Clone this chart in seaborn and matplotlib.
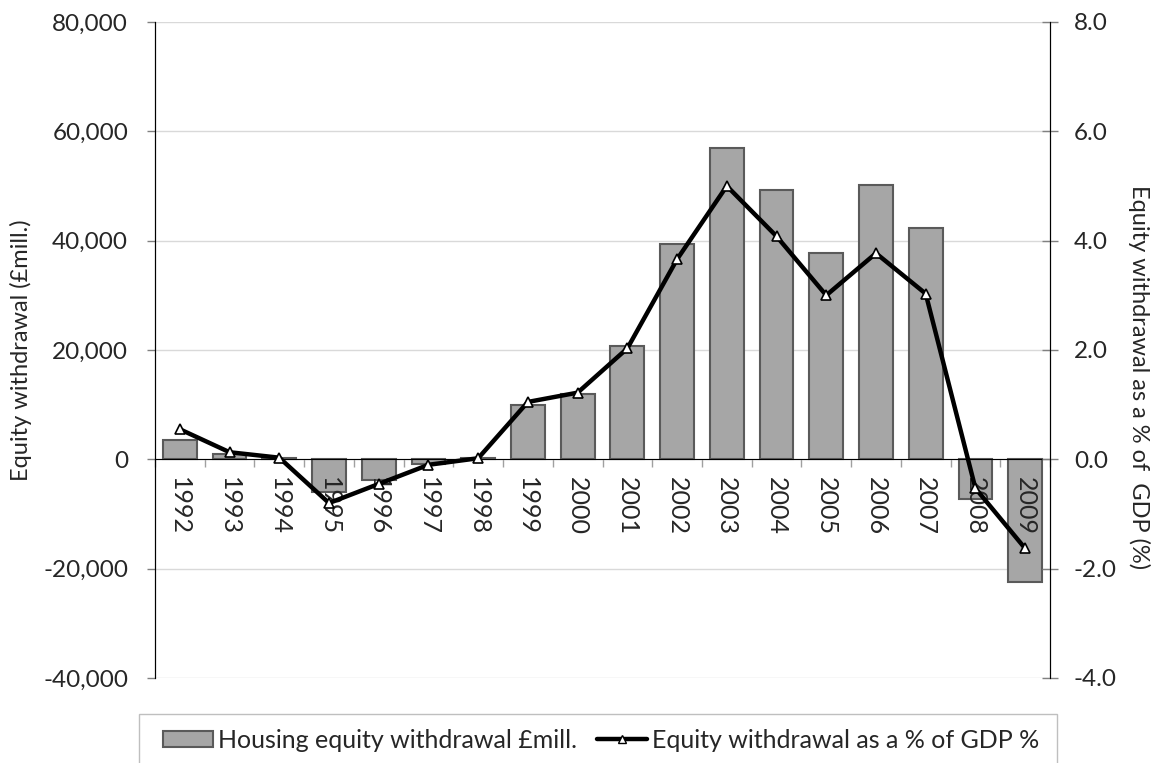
import numpy as np
import pandas as pd
import matplotlib
matplotlib.use("Agg")
import matplotlib.pyplot as plt
import seaborn as sns
from matplotlib.patches import Patch, Rectangle
from matplotlib.lines import Line2D
from matplotlib.ticker import FuncFormatter

# data
years = [str(y) for y in range(1992, 2010)]
hew_mill = [3500, 900, 300, -5900, -3700, -900, 300, 9900, 12000, 20700,
            39300, 57000, 49200, 37800, 50100, 42400, -7300, -22500]
hew_pct_gdp = [0.55, 0.13, 0.03, -0.80, -0.45, -0.10, 0.02, 1.05, 1.22, 2.03,
               3.66, 5.00, 4.08, 3.00, 3.77, 3.03, -0.53, -1.63]

df = pd.DataFrame({"year": years, "hew": hew_mill, "pct": hew_pct_gdp})
df["pos"] = np.arange(len(df))

BAR = "#A6A6A6"
BAR_EDGE = "#5A5A5A"
TICK = "#808080"

sns.set_style("white")
plt.rcParams["font.family"] = ["Lato", "DejaVu Sans"]

W, H = 1158, 763
fig = plt.figure(figsize=(W / 100, H / 100), dpi=100)
ax = fig.add_axes([155 / W, 1 - 678 / H, 895 / W, 656 / H])

sns.barplot(data=df, x="year", y="hew", ax=ax, color=BAR,
            edgecolor=BAR_EDGE, linewidth=1.5, width=0.68, saturation=1)

ax.set_ylim(-40000, 80000)
ax.set_yticks(np.arange(-40000, 80001, 20000))
ax.yaxis.set_major_formatter(FuncFormatter(lambda v, p: f"{v:,.0f}"))
ax.yaxis.grid(True, color="#D9D9D9", linewidth=1)
ax.set_axisbelow(True)
ax.set_xlim(-0.5, len(df) - 0.5)

# x axis sits on the zero line, ticks between categories
ax.spines["bottom"].set_position(("data", 0))
ax.spines["bottom"].set_color("black")
ax.spines["top"].set_visible(False)
ax.spines["left"].set_color("black")
ax.spines["right"].set_color("black")
ax.set_xticks(np.arange(-0.5, len(df), 1.0))
ax.set_xticklabels([])
ax.tick_params(axis="x", bottom=True, length=5.5, color="#A0A0A0", width=1)
ax.tick_params(axis="y", left=True, length=5.8, color=TICK, width=1,
               labelsize=17.5, pad=13.5)
ax.set_xlabel("")
ax.set_ylabel("")

for i, yr in enumerate(years):
    ax.annotate(yr, xy=(i, 0), xytext=(0, -13), textcoords="offset points",
                rotation=270, ha="center", va="top", fontsize=18)

ax2 = ax.twinx()
sns.lineplot(data=df, x="pos", y="pct", ax=ax2, color="black", linewidth=3.2,
             marker="^", markersize=7, markerfacecolor="white",
             markeredgecolor="black", markeredgewidth=1.2)
ax2.set_ylim(-4, 8)
ax2.set_yticks(np.arange(-4, 8.01, 2))
ax2.yaxis.set_major_formatter(FuncFormatter(lambda v, p: f"{v:.1f}"))
ax2.tick_params(axis="y", right=True, direction="inout", length=11.5,
                color=TICK, width=1, labelsize=17.5, pad=11.5)
ax2.set_ylabel("")
ax2.set_xlabel("")
ax2.spines["top"].set_visible(False)
ax2.spines["bottom"].set_visible(False)
ax2.spines["right"].set_color("black")
ax2.spines["left"].set_color("black")
ax2.set_xlim(-0.5, len(df) - 0.5)

fig.text(21 / W, 1 - 350 / H, "Equity withdrawal (£mill.)", rotation=90,
         ha="center", va="center", fontsize=17)
fig.text(1139 / W, 1 - 377 / H, "Equity withdrawal as a % of  GDP (%)",
         rotation=270, ha="center", va="center", fontsize=17)

# legend box (runs off the bottom edge like the reference)
fig.patches.append(Rectangle((139 / W, -0.02), (1057 - 139) / W, 0.02 + 49 / H,
                             transform=fig.transFigure, facecolor="none",
                             edgecolor="#BFBFBF", linewidth=1))
handles = [Patch(facecolor=BAR, edgecolor=BAR_EDGE, linewidth=1.5),
           Line2D([0], [0], color="black", linewidth=3.2, marker="^",
                  markersize=6, markerfacecolor="white", markeredgecolor="black")]
labels = ["Housing equity withdrawal £mill.", "Equity withdrawal as a % of GDP %"]
fig.legend(handles, labels, loc="center", bbox_to_anchor=(0.519, 0.030),
           ncol=2, fontsize=18, frameon=False, handlelength=2.0,
           handleheight=0.6, handletextpad=0.2, columnspacing=0.8)

fig.savefig("out.png", dpi=100)
